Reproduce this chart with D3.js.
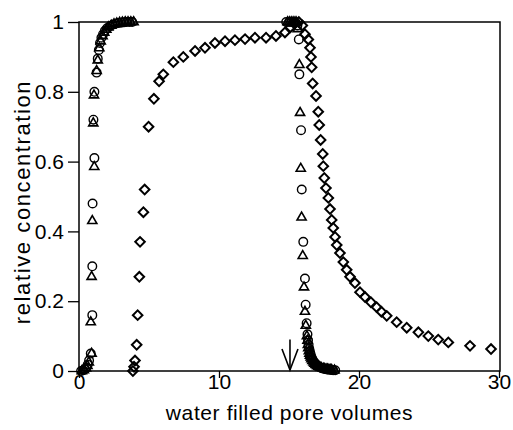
<!DOCTYPE html>
<html>
<head>
<meta charset="utf-8">
<script src="https://cdn.jsdelivr.net/npm/d3@7"></script>
<style>
  html, body { margin: 0; padding: 0; background: #fff; }
  svg { display: block; }
  text { font-family: "Liberation Sans", Arial, Helvetica, sans-serif; fill: #000; }
</style>
</head>
<body>
<svg id="chart" width="513" height="430"></svg>
<script>
// ---- data (x = water filled pore volumes, y = relative concentration) ----
const circles = [
  [0.15,0],[0.3,0.002],[0.42,0.005],[0.52,0.01],[0.62,0.018],[0.72,0.03],[0.84,0.05],
  [0.95,0.16],[0.95,0.30],[0.97,0.48],[1.1,0.61],[1.03,0.72],[1.1,0.80],[1.26,0.855],
  [1.34,0.895],[1.42,0.92],[1.5,0.94],[1.6,0.955],[1.72,0.965],[1.85,0.975],[2.0,0.982],
  [2.2,0.988],[2.4,0.992],[2.6,0.995],[2.8,0.997],[3.0,0.998],[3.2,0.999],[3.4,1],[3.6,1],[3.8,1],
  [14.8,1],[15.0,1],[15.15,1],[15.3,1],[15.45,1],[15.6,0.99],[15.7,0.95],[15.74,0.85],
  [15.86,0.69],[15.91,0.52],[16.02,0.37],[16.14,0.265],[16.19,0.19],[16.26,0.137],
  [16.32,0.105],[16.36,0.088],[16.4,0.075],[16.45,0.064],[16.5,0.055],[16.55,0.047],
  [16.6,0.04],[16.67,0.034],[16.75,0.028],[16.82,0.024],[16.9,0.02],[16.97,0.017],
  [17.05,0.014],[17.15,0.012],[17.25,0.01],[17.35,0.008],[17.45,0.007],[17.55,0.006],
  [17.65,0.005],[17.75,0.0045],[17.85,0.004],[17.95,0.0035],[18.05,0.003],[18.15,0.0025],[18.3,0.002]
];
const triangles = [
  [0.2,0],[0.35,0.003],[0.5,0.008],[0.6,0.015],[0.7,0.025],[0.9,0.05],[0.84,0.14],
  [0.9,0.27],[0.95,0.43],[1.09,0.585],[1.02,0.71],[1.07,0.79],[1.26,0.86],[1.34,0.89],
  [1.45,0.925],[1.55,0.945],[1.68,0.96],[1.8,0.97],[1.95,0.978],[2.1,0.985],[2.3,0.99],
  [2.5,0.994],[2.7,0.996],[2.9,0.998],[3.1,0.999],[3.3,1],[3.5,1],[3.7,1],[3.9,1],
  [14.9,1],[15.05,1],[15.2,1],[15.35,1],[15.5,1],[15.62,0.98],[15.74,0.877],[15.79,0.74],
  [15.84,0.58],[15.9,0.44],[15.98,0.33],[16.07,0.24],[16.14,0.17],[16.2,0.13],[16.28,0.1],
  [16.32,0.087],[16.35,0.075],[16.38,0.066],[16.42,0.057],[16.46,0.05],[16.5,0.044],
  [16.55,0.039],[16.6,0.034],[16.67,0.029],[16.75,0.025],[16.82,0.021],[16.9,0.018],
  [17.0,0.015],[17.1,0.013],[17.2,0.011],[17.3,0.009],[17.45,0.007],[17.55,0.006],
  [17.65,0.005],[17.75,0.0045],[17.85,0.004],[17.95,0.0035],[18.05,0.003],[18.25,0.002]
];
const diamonds = [
  [3.85,0.0],[3.93,0.012],[4.0,0.03],[4.12,0.075],[4.19,0.16],[4.31,0.27],[4.36,0.37],
  [4.6,0.455],[4.69,0.52],[4.97,0.70],[5.35,0.78],[5.72,0.83],[6.02,0.85],[6.74,0.885],
  [7.45,0.90],[8.29,0.917],[9.0,0.926],[9.71,0.94],[10.43,0.945],[11.14,0.948],[11.86,0.951],
  [12.57,0.955],[13.36,0.955],[14.07,0.96],[14.71,0.97],[15.1,0.985],[15.4,0.995],[15.7,1.0],
  [15.95,0.99],[16.14,0.965],[16.38,0.95],[16.5,0.926],[16.57,0.90],[16.62,0.87],[16.69,0.824],
  [16.93,0.788],[17.09,0.743],[17.16,0.705],[17.26,0.662],[17.41,0.622],[17.45,0.587],
  [17.52,0.553],[17.64,0.524],[17.81,0.496],[17.93,0.464],[18.05,0.433],[18.16,0.41],
  [18.29,0.384],[18.41,0.361],[18.64,0.338],[18.88,0.312],[19.12,0.29],[19.36,0.27],
  [19.71,0.252],[20.07,0.226],[20.43,0.212],[20.85,0.197],[21.26,0.183],[21.6,0.17],
  [21.98,0.158],[22.69,0.14],[23.41,0.124],[24.24,0.111],[24.95,0.1],[25.66,0.09],
  [26.38,0.082],[27.93,0.072],[29.43,0.063]
];
const xTicks = [0, 10, 20, 30];
const yTicks = [0, 0.2, 0.4, 0.6, 0.8, 1];
const xLabel = "water filled pore volumes";
const yLabel = "relative concentration";
const arrowX = 15.07;      // marker arrow position (pore volumes)
const arrowFrom = 0.09;    // arrow top (relative concentration)

// ---- layout ----
const svg = d3.select("#chart");
const M = { left: 79, right: 500, top: 22, bottom: 371 };
const x = d3.scaleLinear().domain([0, 30]).range([M.left, M.right - 1]);
const y = d3.scaleLinear().domain([0, 1]).range([M.bottom, M.top]);

// frame
svg.append("rect")
  .attr("x", M.left).attr("y", M.top)
  .attr("width", M.right - M.left).attr("height", M.bottom - M.top)
  .attr("fill", "none").attr("stroke", "#000").attr("stroke-width", 1.5);

// axes
const fmtY = d => String(+d.toFixed(1));
const gx = svg.append("g").attr("transform", `translate(0,${M.bottom})`)
  .call(d3.axisBottom(x).tickValues(xTicks).tickSize(7).tickPadding(2).tickFormat(d3.format("d")));
const gy = svg.append("g").attr("transform", `translate(${M.left},0)`)
  .call(d3.axisLeft(y).tickValues(yTicks).tickSize(11).tickPadding(4).tickFormat(fmtY));
[gx, gy].forEach(g => {
  g.select(".domain").remove();
  g.selectAll(".tick line").attr("stroke", "#000").attr("stroke-width", 1.3);
  g.selectAll(".tick text").attr("font-size", 21)
    .attr("font-family", '"Liberation Sans", Arial, sans-serif').attr("fill", "#000");
});
gx.selectAll(".tick text").attr("y", 3);

// axis titles
svg.append("text")
  .attr("x", (M.left + M.right) / 2).attr("y", 420)
  .attr("text-anchor", "middle").attr("font-size", 21)
  .attr("letter-spacing", 0.6).text(xLabel);
svg.append("text")
  .attr("transform", `translate(30,202) rotate(-90)`)
  .attr("text-anchor", "middle").attr("font-size", 22)
  .attr("letter-spacing", 1.6).text(yLabel);

// markers
const mk = svg.append("g").attr("fill", "none").attr("stroke", "#000");
mk.selectAll("path.dia").data(diamonds).join("path")
  .attr("class", "dia")
  .attr("d", d3.symbol().type(d3.symbolSquare).size(46)())
  .attr("transform", d => `translate(${x(d[0])},${y(d[1])}) rotate(45)`)
  .attr("stroke-width", 2);
mk.selectAll("circle.c").data(circles).join("circle")
  .attr("class", "c")
  .attr("cx", d => x(d[0])).attr("cy", d => y(d[1])).attr("r", 4.3)
  .attr("stroke-width", 1.4);
mk.selectAll("path.tri").data(triangles).join("path")
  .attr("class", "tri")
  .attr("d", d3.symbol().type(d3.symbolTriangle).size(36)())
  .attr("transform", d => `translate(${x(d[0])},${y(d[1])})`)
  .attr("stroke-width", 1.6);

// arrow annotation
const ax = x(arrowX), ay0 = y(arrowFrom), ay1 = y(0);
const ar = svg.append("g").attr("stroke", "#000").attr("stroke-width", 1.6).attr("fill", "none");
ar.append("line").attr("x1", ax).attr("x2", ax).attr("y1", ay0).attr("y2", ay1 - 1);
ar.append("path").attr("d", `M${ax - 8},${ay1 - 22} L${ax},${ay1 - 1} L${ax + 8},${ay1 - 22}`);
</script>
</body>
</html>
